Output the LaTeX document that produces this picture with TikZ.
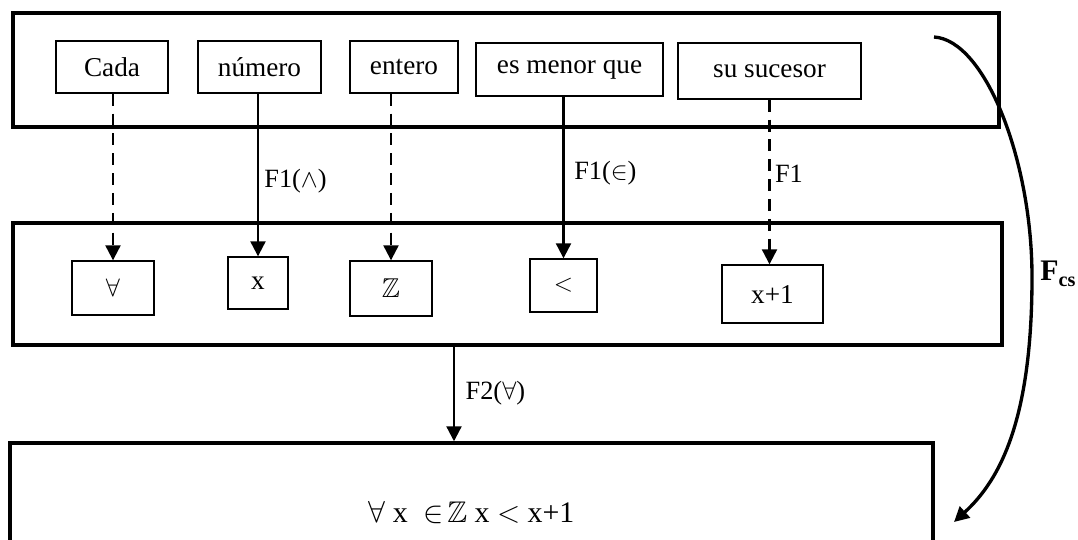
\documentclass[tikz,border=0pt]{standalone}
\usepackage{amsmath,amssymb}
\usepackage{fontspec}
\setmainfont{Liberation Serif}
\usepackage{tikz}
\usetikzlibrary{arrows.meta}

\begin{document}
\begin{tikzpicture}[x=0.02cm,y=-0.02cm,>={Triangle[width=8.5pt,length=8.5pt]},
  font=\fontsize{15.5}{17}\selectfont,
  bigbox/.style={draw,line width=2pt,inner sep=0pt},
  wordbox/.style={draw,line width=0.8pt,inner sep=0pt},
  dashline/.style={dash pattern=on 6.8pt off 4.5pt},
  link/.style={->,line width=1.25pt},
  lbl/.style={right,font=\fontsize{15}{17}\selectfont}]
\useasboundingbox(0,0)rectangle(1078,539);
\clip(0,0)rectangle(1078,539);
% the three levels
\node[bigbox,minimum width=19.72cm,minimum height=2.28cm](frase)at(506,70){};
\node[bigbox,minimum width=19.78cm,minimum height=2.44cm](simb)at(507.5,284){};
\node[bigbox,minimum width=18.46cm,minimum height=2.8cm,font=\fontsize{17}{19}\selectfont](form)at(471.5,513)
  {$\forall$ x \;$\in\!\mathbb{Z}$ x $<$ x+1};
% words
\node[wordbox,minimum width=2.24cm,minimum height=1.04cm](cada)at(112,67){Cada};
\node[wordbox,minimum width=2.46cm,minimum height=1.04cm](numero)at(259.5,67){número};
\node[wordbox,minimum width=2.16cm,minimum height=1.04cm](entero)at(404,67){entero};
\node[wordbox,minimum width=3.74cm,minimum height=1.06cm](menor)at(569.5,69.5){es menor que};
\node[wordbox,minimum width=3.66cm,minimum height=1.12cm](sucesor)at(769.5,71){su sucesor};
% symbols
\node[wordbox,minimum width=1.64cm,minimum height=1.08cm](sfa)at(113,288){$\forall$};
\node[wordbox,minimum width=1.2cm,minimum height=1.04cm](sx)at(258,283){x};
\node[wordbox,minimum width=1.64cm,minimum height=1.1cm](sz)at(391,288.5){$\mathbb{Z}$};
\node[wordbox,minimum width=1.34cm,minimum height=1.06cm](slt)at(563.5,285.5){$<$};
\node[wordbox,minimum width=2.02cm,minimum height=1.16cm](ssuc)at(772.5,294){x+1};
% translations
\draw[link,dashline](sfa.north|-cada.south)--(sfa.north);
\draw[link](sx.north|-numero.south)--node[pos=0.54,lbl,inner sep=3pt]{F1($\wedge$)}(sx.north);
\draw[link,dashline](sz.north|-entero.south)--(sz.north);
\draw[link](slt.north|-menor.south)--node[pos=0.47,lbl,inner sep=5.5pt]{F1($\in$)}(slt.north);
\draw[link,dashline](sucesor.south)--node[pos=0.45,lbl,inner sep=2.5pt]{F1}(sucesor.south|-ssuc.north);
\coordinate(f2)at(454,0);
\draw[link](simb.south-|f2)--node[pos=0.49,lbl,inner sep=6pt]{F2($\forall$)}(form.north-|f2);
% direct translation
\coordinate(csA)at(934,37);
\coordinate(csB)at(1032,277);
\coordinate(csC)at(954,522);
\draw[->,line width=1.9pt](csA)..controls(985,40)and(1032,160)..(csB)
  ..controls(1032,420)and(1000,480)..(csC);
\node[font=\fontsize{17}{19}\selectfont\bfseries,inner sep=0pt,anchor=west](fcs)at(1040,274){F\raisebox{-0.4ex}{\fontsize{11.5}{13}\selectfont cs}};
\end{tikzpicture}
\end{document}
